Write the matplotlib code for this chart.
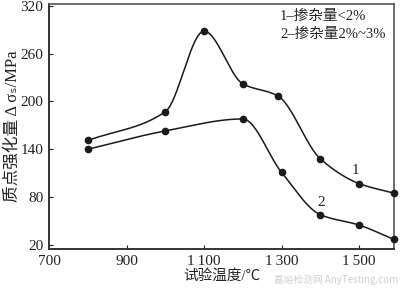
import numpy as np
import matplotlib
matplotlib.use("Agg")
import matplotlib.pyplot as plt

# ---- data ----
temp1 = [800, 1000, 1100, 1200, 1290, 1400, 1500, 1590]
vals1 = [151, 187, 288, 222, 207, 128, 97, 85]
temp2 = [800, 1000, 1200, 1300, 1400, 1500, 1590]
vals2 = [140, 163, 178, 111, 58, 45, 27]
xticks = [700, 900, 1100, 1300, 1500]
xticklabels = ["700", "900", "1\u2009100", "1\u2009300", "1\u2009500"]
yticks = [20, 80, 140, 200, 260, 320]
legend_lines = ["1\u2013掺杂量<2%", "2\u2013掺杂量2%~3%"]
curve_labels = ["1", "2"]

FAM = ["Liberation Serif", "Noto Sans CJK SC", "DejaVu Sans"]
plt.rcParams["font.family"] = FAM


def pchip(x, y, xs):
    x = np.asarray(x, float); y = np.asarray(y, float)
    h = np.diff(x); d = np.diff(y) / h
    n = len(x); m = np.zeros(n)
    for k in range(1, n - 1):
        if d[k - 1] * d[k] > 0:
            w1 = 2 * h[k] + h[k - 1]; w2 = h[k] + 2 * h[k - 1]
            m[k] = (w1 + w2) / (w1 / d[k - 1] + w2 / d[k])
    m[0] = d[0]; m[-1] = d[-1]
    out = np.empty_like(xs)
    for i, xv in enumerate(xs):
        k = min(np.searchsorted(x, xv, side="right") - 1, n - 2)
        k = max(k, 0)
        t = (xv - x[k]) / h[k]
        h00 = 2 * t**3 - 3 * t**2 + 1; h10 = t**3 - 2 * t**2 + t
        h01 = -2 * t**3 + 3 * t**2; h11 = t**3 - t**2
        out[i] = h00 * y[k] + h10 * h[k] * m[k] + h01 * y[k + 1] + h11 * h[k] * m[k + 1]
    return out


fig = plt.figure(figsize=(4.0, 2.89), dpi=100)
ax = fig.add_axes([0.1225, 0.1384, 0.8625, 0.8476])

for tx, ty in ((temp1, vals1), (temp2, vals2)):
    xs = np.linspace(tx[0], tx[-1], 400)
    ax.plot(xs, pchip(tx, ty, xs), color="#1a1a1a", lw=1.1, clip_on=False)
    ax.plot(tx, ty, "o", color="#1a1a1a", ms=4.5, clip_on=False, zorder=3)

ax.set_xlim(700, 1590)
ax.set_ylim(15, 322)
ax.set_xticks(xticks)
ax.set_xticklabels(xticklabels)
ax.set_yticks(yticks)
ax.tick_params(direction="in", length=3, width=0.8, labelsize=11,
               colors="#222222", pad=4)

for s in ("left", "bottom"):
    ax.spines[s].set_linewidth(1.4)
    ax.spines[s].set_color("#333333")
for s in ("top", "right"):
    ax.spines[s].set_linewidth(1.2)
    ax.spines[s].set_color("#555555")

ax.set_xlabel("试验温度/℃", fontsize=10.5, color="#222222", labelpad=1)
ax.set_ylabel("质点强化量 Δ σ\u209b/MPa", fontsize=12, color="#222222", labelpad=0)

ax.text(0.67, 0.95, legend_lines[0], transform=ax.transAxes, fontsize=10.5,
        color="#222222", va="center", ha="left")
ax.text(0.67, 0.875, legend_lines[1], transform=ax.transAxes, fontsize=10.5,
        color="#222222", va="center", ha="left")
ax.text(1490, 114, curve_labels[0], fontsize=11, color="#222222", ha="center", va="center")
ax.text(1402, 73, curve_labels[1], fontsize=11, color="#222222", ha="center", va="center")

# watermark (kept clear of other texts)
fig.text(0.995, 0.03, "嘉峪检测网 AnyTesting.com", fontsize=7, color="#d0d0d0",
         ha="right", va="center", family=["Noto Sans CJK SC", "DejaVu Sans"],
         zorder=0)

fig.savefig("out.png", dpi=100)
